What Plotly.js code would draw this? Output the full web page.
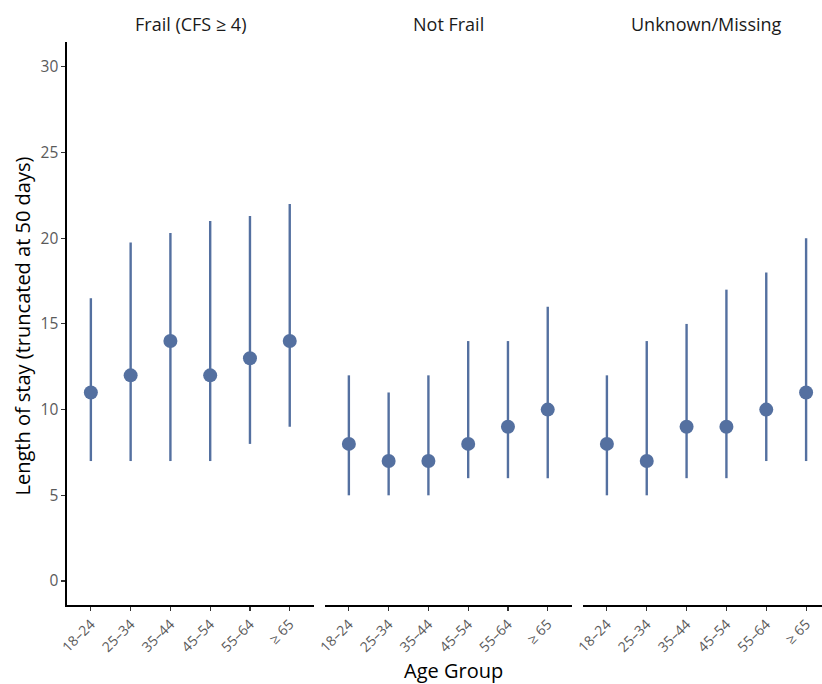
<!DOCTYPE html>
<html>
<head>
<meta charset="utf-8">
<script src="https://cdn.plot.ly/plotly-3.0.1.min.js"></script>
<style>
html,body{margin:0;padding:0;overflow:hidden;background:#fff;}
#chart{width:830px;height:684px;}
</style>
</head>
<body>
<div id="chart"></div>
<script>
const ageGroups = ["18–24","25–34","35–44","45–54","55–64","≥ 65"];
const panels = ["Frail (CFS ≥ 4)","Not Frail","Unknown/Missing"];

const frailMedian = [11,12,14,12,13,14];
const frailLow    = [7,7,7,7,8,9];
const frailHigh   = [16.5,19.75,20.3,21,21.3,22];

const notFrailMedian = [8,7,7,8,9,10];
const notFrailLow    = [5,5,5,6,6,6];
const notFrailHigh   = [12,11,12,14,14,16];

const unknownMedian = [8,7,9,9,10,11];
const unknownLow    = [5,5,6,6,7,7];
const unknownHigh   = [12,14,15,17,18,20];

const series = [
  {m: frailMedian, lo: frailLow, hi: frailHigh},
  {m: notFrailMedian, lo: notFrailLow, hi: notFrailHigh},
  {m: unknownMedian, lo: unknownLow, hi: unknownHigh}
];

const col = "#5470a0";
const font = "'Open Sans', Lato, sans-serif";
const traces = series.map((s, i) => ({
  type: "scatter",
  mode: "markers",
  x: ageGroups,
  y: s.m,
  xaxis: i === 0 ? "x" : "x" + (i + 1),
  yaxis: "y",
  marker: {color: col, size: 14},
  error_y: {
    type: "data", symmetric: false,
    array: s.hi.map((h, k) => h - s.m[k]),
    arrayminus: s.m.map((v, k) => v - s.lo[k]),
    color: col, thickness: 2.4, width: 0
  },
  hoverinfo: "x+y",
  showlegend: false
}));

const W = 763;
const domains = [[0, 246.6 / W], [258 / W, 504.6 / W], [516 / W, 1]];

function xax(i) {
  return {
    type: "category",
    domain: domains[i],
    range: [-0.6, 5.6],
    anchor: "y",
    showline: true, linecolor: "#000", linewidth: 1.6,
    ticks: "outside", ticklen: 4, tickcolor: "#333", tickwidth: 1.1,
    tickangle: -45,
    tickfont: {family: font, size: 14, color: "#5a5a5a"},
    showgrid: false, zeroline: false, fixedrange: true
  };
}

const layout = {
  width: 830, height: 684,
  margin: {l: 67, r: 0, t: 42, b: 79},
  paper_bgcolor: "#fff", plot_bgcolor: "#fff",
  font: {family: font},
  xaxis: xax(0), xaxis2: xax(1), xaxis3: xax(2),
  yaxis: {
    range: [-1.4, 31.45],
    tickvals: [0, 5, 10, 15, 20, 25, 30],
    showline: true, linecolor: "#000", linewidth: 1.6,
    ticks: "outside", ticklen: 4, tickcolor: "#333", tickwidth: 1.1,
    tickfont: {family: font, size: 15.5, color: "#5a5a5a"},
    showgrid: false, zeroline: false, fixedrange: true
  },
  annotations: [
    ...panels.map((p, i) => ({
      text: p, xref: "paper", yref: "paper",
      x: (domains[i][0] + domains[i][1]) / 2, y: 1, yshift: 18,
      xanchor: "center", yanchor: "middle", showarrow: false,
      font: {family: font, size: 18, color: "#1a1a1a"}
    })),
    {text: "Age Group", xref: "paper", yref: "paper", x: 0.5, xshift: 5, y: 0, yshift: -65,
     xanchor: "center", yanchor: "middle", showarrow: false,
     font: {family: font, size: 20, color: "#000"}},
    {text: "Length of stay (truncated at 50 days)", xref: "paper", yref: "paper",
     x: 0, xshift: -45, y: 0.5, yshift: -3, textangle: -90,
     xanchor: "center", yanchor: "middle", showarrow: false,
     font: {family: font, size: 20, color: "#000"}}
  ]
};

Plotly.newPlot("chart", traces, layout, {displayModeBar: false, staticPlot: true});
</script>
</body>
</html>
